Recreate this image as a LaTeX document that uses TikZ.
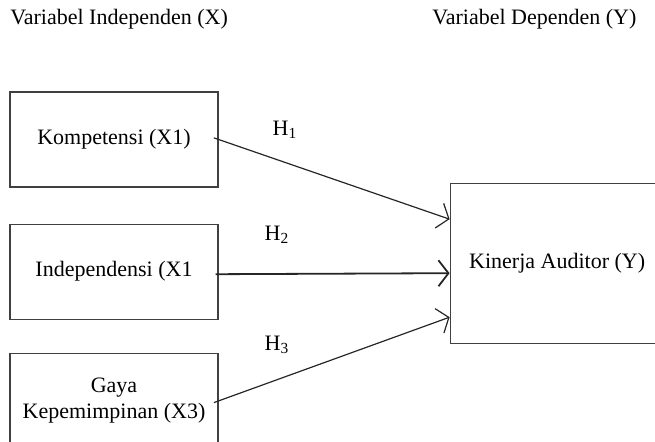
\documentclass[tikz,border=0pt]{standalone}
\usepackage{fontspec}
\setmainfont{Liberation Serif}
\usepackage{xcolor}
\usepackage{tikz}
\usetikzlibrary{positioning,arrows.meta}

\begin{document}
\begin{tikzpicture}[
            x=0.5pt, y=-0.5pt,
            node distance=18pt,
            box/.style={rectangle, draw=black!75, line width=0.6pt, minimum height=47.5pt, minimum width=104pt, align=center, font=\fontsize{11}{13}\selectfont},
            arrow/.style={-{Straight Barb[length=5pt, width=13pt]}, line width=0.6pt, black!85},
            lbl/.style={font=\fontsize{11}{13}\selectfont, inner sep=0pt}
        ]
        \clip (0,0) rectangle (655,442);
        
        % Headings
        \node[lbl, anchor=west] (hx) at (10,19) {Variabel Independen (X)};
        \node[lbl, anchor=west] (hy) at (432,19) {Variabel Dependen (Y)};
        
        % Independent variables
        \node[box] (kom) at (114,139.5) {Kompetensi (X1)};
        \node[box, below=of kom] (ind) {Independensi (X1};
        \node[box, below=16.5pt of ind] (gaya) {Gaya\\Kepemimpinan (X3)};
        
        % Dependent variable
        \node[box, minimum width=107pt, minimum height=80pt, right=115.5pt of ind, yshift=4.25pt] (kin) {Kinerja Auditor (Y)};
        
        % Arrows
        \draw[arrow, shorten <=-2.5pt] (kom.east) -- ([yshift=22pt]kin.west);
        \draw[arrow, line width=0.9pt, shorten <=-1.5pt] ([yshift=-1.25pt]ind.east) -- ([yshift=-5pt]kin.west);
        \draw[arrow, shorten <=-2.5pt] (gaya.east) -- ([yshift=-27pt]kin.west);
        
        % Hypotheses
        \node[lbl] (h1) at (285,130) {H\textsubscript{1}};
        \node[lbl] (h2) at (277,235) {H\textsubscript{2}};
        \node[lbl] (h3) at (277,345) {H\textsubscript{3}};
        
        \end{tikzpicture}
\end{document}
